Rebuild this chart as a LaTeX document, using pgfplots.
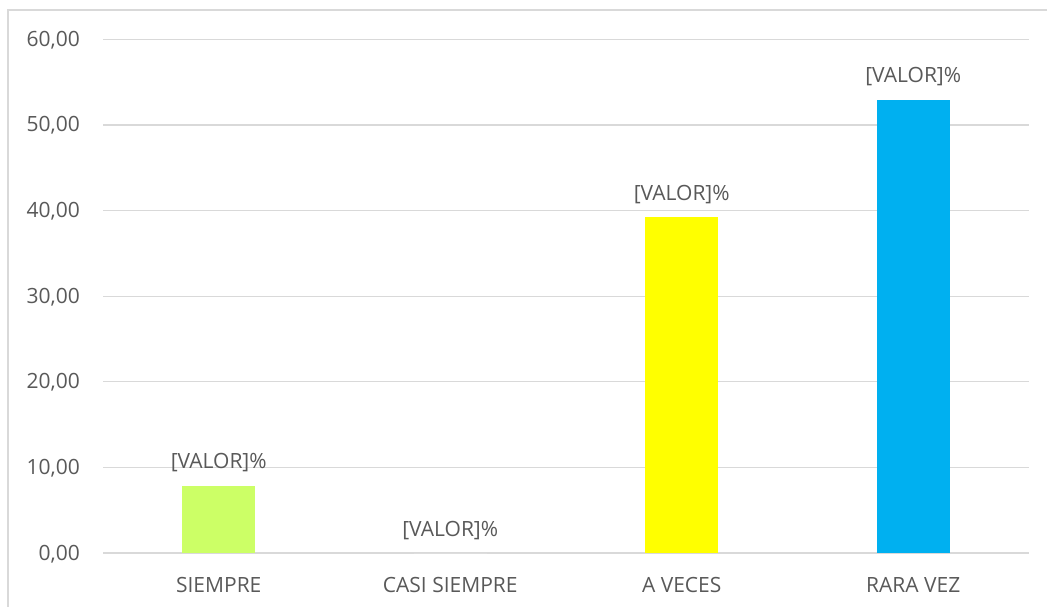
\documentclass[border=0pt]{standalone}
\usepackage{pgfplots}
\pgfplotsset{compat=1.18}
\usepackage{fontspec}
\setmainfont{Open Sans}
\definecolor{gridc}{HTML}{D9D9D9}
\definecolor{txt}{HTML}{595959}
\definecolor{cgreen}{HTML}{CCFF66}
\definecolor{cyellow}{HTML}{FFFF00}
\definecolor{cblue}{HTML}{00B0F0}
\newcommand{\cfont}{\fontsize{21bp}{25bp}\selectfont}
\begin{document}
\begin{tikzpicture}
\path[use as bounding box] (0,0) rectangle (1047bp,607bp);
\draw[gridc, line width=1.2bp] (8bp,0) -- (8bp,597bp) -- (1047bp,597bp);
\begin{axis}[
  at={(103bp,54bp)}, anchor=south west,
  scale only axis, width=926bp, height=513.7bp,
  xmin=-0.5, xmax=3.5, ymin=0, ymax=60,
  ytick={0,10,20,30,40,50,60},
  xtick={0,1,2,3},
  xticklabels={SIEMPRE, CASI SIEMPRE, A VECES, RARA VEZ},
  axis line style={draw=none},
  tick style={draw=none},
  major tick length=0pt,
  ymajorgrids,
  grid style={gridc, line width=1.2bp},
  ybar, bar width=73bp, bar shift=0pt,
  clip=false,
  /pgf/number format/fixed,
  /pgf/number format/fixed zerofill,
  /pgf/number format/precision=2,
  /pgf/number format/use comma,
  /pgf/number format/assume math mode=true,
  every y tick label/.append style={anchor=base east, inner sep=0pt, xshift=-23bp, yshift=-7bp, font=\cfont, text=txt},
  every x tick label/.append style={anchor=base, inner sep=0pt, yshift=-39bp, font=\cfont, text=txt},
  nodes near coords={[VALOR]\%},
  every node near coord/.append style={anchor=base, inner sep=0pt, yshift=17bp, font=\cfont, text=txt},
]
\addplot[fill=cgreen, draw=none] coordinates {(0,7.84)};
\addplot[fill=white, draw=none] coordinates {(1,0)};
\addplot[fill=cyellow, draw=none] coordinates {(2,39.22)};
\addplot[fill=cblue, draw=none] coordinates {(3,52.94)};
\end{axis}
\end{tikzpicture}
\end{document}
